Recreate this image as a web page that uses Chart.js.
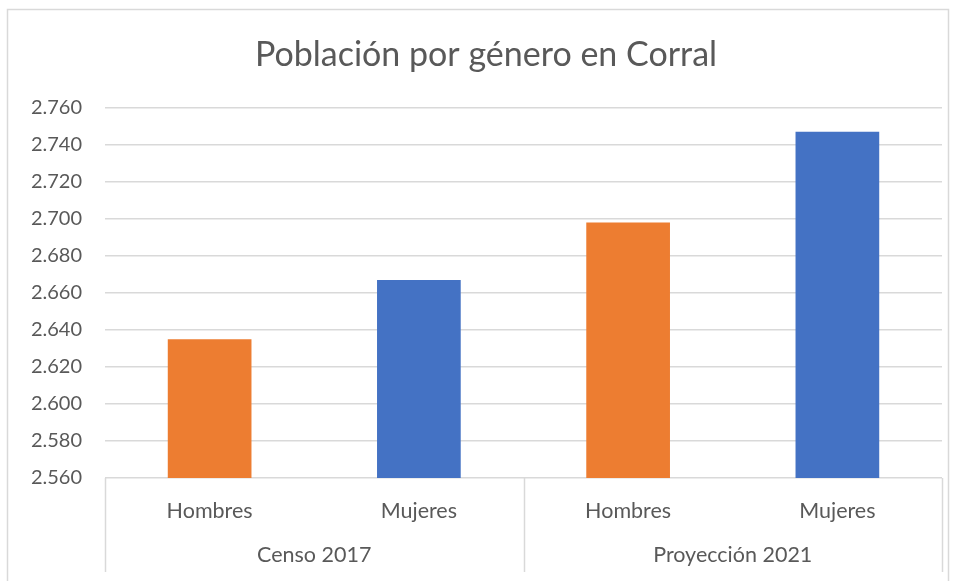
<!DOCTYPE html>
<html><head><meta charset="utf-8">
<script src="https://cdn.jsdelivr.net/npm/chart.js@4/dist/chart.umd.min.js"></script>
<style>html,body{margin:0;padding:0;background:#fff}</style>
</head><body>
<canvas id="c" width="958" height="581"></canvas>
<script>
const chartTitle = 'Población por género en Corral';
const categories = ['Hombres', 'Mujeres', 'Hombres', 'Mujeres'];
const groups = ['Censo 2017', 'Proyección 2021'];
const values = [2635, 2667, 2698, 2747];
const barColors = ['#ED7D31', '#4472C4', '#ED7D31', '#4472C4'];
const yMin = 2560, yMax = 2760, yStep = 20;

const FONT = 'Lato';
const TEXT = '#595959';
const GRID = '#D9D9D9';

function fmt(v) {
  const s = String(Math.round(v));
  return s.replace(/\B(?=(\d{3})+(?!\d))/g, '.');
}

const frame = {
  id: 'frame',
  beforeDraw(chart) {
    const ctx = chart.ctx;
    ctx.save();
    ctx.fillStyle = '#fff';
    ctx.fillRect(0, 0, chart.width, chart.height);
    ctx.strokeStyle = GRID;
    ctx.lineWidth = 1.5;
    ctx.strokeRect(7.5, 9.5, 941, 600);
    ctx.restore();
  }
};

const groupLines = {
  id: 'groupLines',
  afterDraw(chart) {
    const ctx = chart.ctx, a = chart.chartArea, x2 = chart.scales.x2;
    const mids = [];
    for (let i = 0; i < groups.length - 1; i++) {
      mids.push((x2.getPixelForValue(i) + x2.getPixelForValue(i + 1)) / 2);
    }
    const xs = [a.left, ...mids, a.right];
    ctx.save();
    ctx.strokeStyle = GRID;
    ctx.lineWidth = 1.5;
    xs.forEach(px => {
      ctx.beginPath();
      ctx.moveTo(Math.round(px) + 0.5, a.bottom);
      ctx.lineTo(Math.round(px) + 0.5, x2.bottom);
      ctx.stroke();
    });
    ctx.restore();
  }
};

new Chart(document.getElementById('c'), {
  type: 'bar',
  data: {
    labels: categories,
    datasets: [{
      label: 'Población',
      data: values,
      backgroundColor: barColors,
      borderWidth: 0,
      categoryPercentage: 0.8,
      barPercentage: 0.5
    }]
  },
  options: {
    responsive: false,
    devicePixelRatio: 1,
    animation: false,
    layout: { padding: { left: 30, right: 16, top: 20, bottom: 9 } },
    plugins: {
      legend: { display: false },
      tooltip: { enabled: false },
      title: {
        display: true,
        text: chartTitle,
        color: TEXT,
        font: { family: FONT, size: 34, weight: 'normal' },
        padding: { top: 15, bottom: 32 }
      }
    },
    scales: {
      x: {
        type: 'category',
        position: 'bottom',
        weight: 0,
        grid: { display: false, drawTicks: false },
        border: { display: false },
        afterFit(scale) { scale.height = 44; },
        ticks: { color: TEXT, font: { family: FONT, size: 21.5 }, padding: 20, maxRotation: 0 }
      },
      x2: {
        type: 'category',
        position: 'bottom',
        weight: 1,
        labels: groups,
        offset: true,
        grid: { display: false, drawTicks: false },
        border: { display: false },
        afterFit(scale) { scale.height = 50; },
        ticks: { color: TEXT, font: { family: FONT, size: 21.5 }, padding: 20, maxRotation: 0 }
      },
      y: {
        min: yMin,
        max: yMax,
        grid: { color: GRID, lineWidth: 1.5, drawTicks: false },
        border: { display: false },
        afterFit(scale) { scale.width = 75; },
        ticks: {
          stepSize: yStep,
          color: TEXT,
          padding: 23,
          font: { family: FONT, size: 20 },
          callback: v => fmt(v)
        }
      }
    }
  },
  plugins: [frame, groupLines]
});
</script>
</body></html>
